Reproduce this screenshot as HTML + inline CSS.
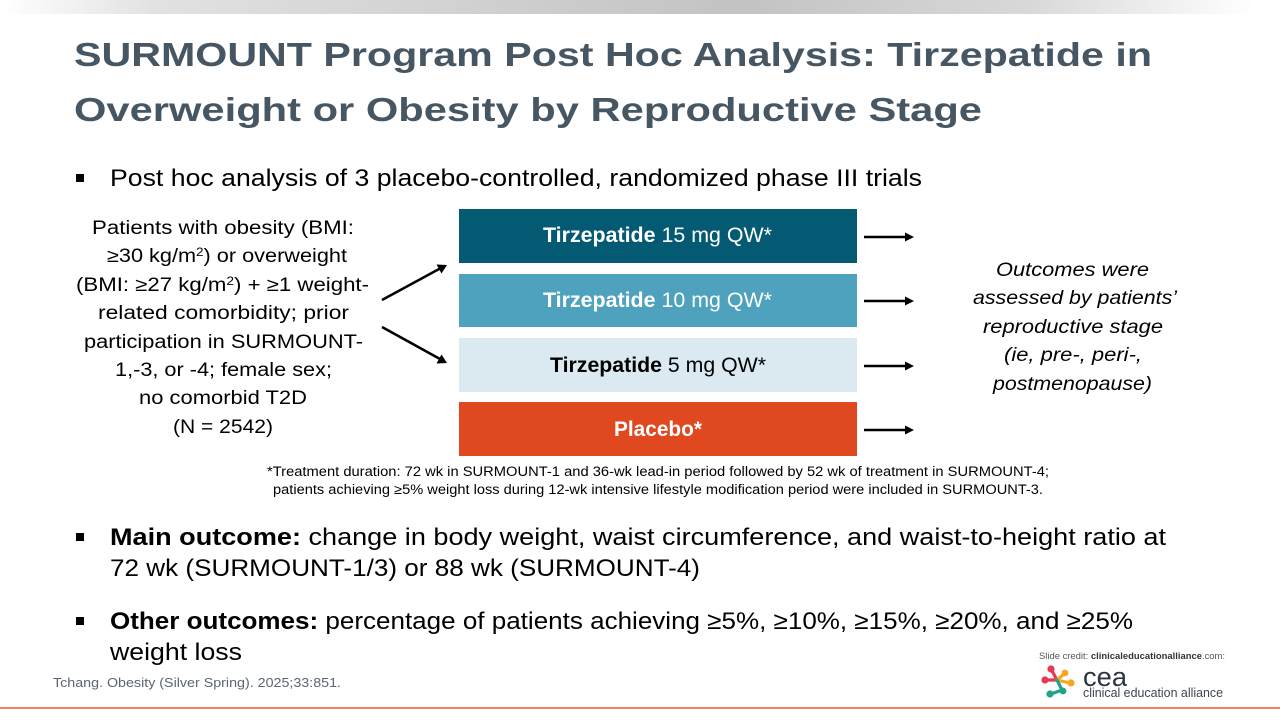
<!DOCTYPE html>
<html>
<head>
<meta charset="utf-8">
<style>
  html, body { margin:0; padding:0; }
  body { width:1280px; height:720px; position:relative; overflow:hidden; background:#fff;
         font-family:"Liberation Sans", "DejaVu Sans", sans-serif; color:#000; }
  .t { position:absolute; white-space:nowrap; transform-origin:0 50%; }
  .topbar { position:absolute; left:0; top:0; width:1280px; height:14px;
            background:linear-gradient(to right, #ffffff 0%, #e2e2e2 12%, #cbcbcb 45%, #c3c3c3 58%, #d8d8d8 80%, #ffffff 98%); }
  .title { font-weight:bold; font-size:33.5px; line-height:33.5px; color:#465662; }
  .b24 { font-size:24.5px; line-height:24.5px; color:#000; }
  .sq { position:absolute; width:8px; height:8px; background:#000; }
  .lb { font-size:19px; line-height:19px; color:#000; }
  .lb sup, .sp { font-size:0.62em; position:relative; top:-0.5em; vertical-align:baseline; line-height:0; }
  .box { position:absolute; left:459px; width:398px; }
  .bx { font-size:21px; line-height:21px; }
  .it { font-size:19px; line-height:19px; font-style:italic; color:#000; }
  .fn { font-size:13.5px; line-height:13.5px; color:#000; }
  .cit { font-size:12.5px; line-height:12.5px; color:#5b6670; }
  .cred { font-size:9.5px; line-height:9.5px; color:#555; }
  .orange { position:absolute; left:0; top:707px; width:1280px; height:2px; background:#f0805e; }
</style>
</head>
<body>
<div class="topbar"></div>

<!-- Title -->
<div class="t title" style="left:74px; top:38.6px; --w:1078;">SURMOUNT Program Post Hoc Analysis: Tirzepatide in</div>
<div class="t title" style="left:74px; top:93.6px; --w:908;">Overweight or Obesity by Reproductive Stage</div>

<!-- Bullet 1 -->
<div class="sq" style="left:76px; top:174px;"></div>
<div class="t b24" style="left:110px; top:167px; --w:812;">Post hoc analysis of 3 placebo-controlled, randomized phase III trials</div>

<!-- Left block -->
<div class="t lb" style="left:92px; top:219px; --w:262;">Patients with obesity (BMI:</div>
<div class="t lb" style="left:107px; top:247px; --w:240;">≥30 kg/m<span class="sp">2</span>) or overweight</div>
<div class="t lb" style="left:76px; top:276px; --w:293;">(BMI: ≥27 kg/m<span class="sp">2</span>) + ≥1 weight-</div>
<div class="t lb" style="left:98px; top:304px; --w:251;">related comorbidity; prior</div>
<div class="t lb" style="left:84px; top:333px; --w:279;">participation in SURMOUNT-</div>
<div class="t lb" style="left:115px; top:361px; --w:217;">1,-3, or -4; female sex;</div>
<div class="t lb" style="left:139px; top:389px; --w:168;">no comorbid T2D</div>
<div class="t lb" style="left:173px; top:418px; --w:100;">(N = 2542)</div>

<!-- Arrows -->
<svg style="position:absolute; left:0; top:0;" width="1280" height="720">
  <g stroke="#000" stroke-width="2.5" fill="#000">
    <line x1="382" y1="300" x2="440" y2="268.5"/>
    <polygon points="447,265 436.5,264.5 441.5,273.5" stroke="none"/>
    <line x1="382" y1="327" x2="440" y2="359"/>
    <polygon points="447,363 441.5,354.5 436.5,363.5" stroke="none"/>
    <line x1="864" y1="237" x2="906" y2="237"/>
    <polygon points="914,237 905,232.5 905,241.5" stroke="none"/>
    <line x1="864" y1="301" x2="906" y2="301"/>
    <polygon points="914,301 905,296.5 905,305.5" stroke="none"/>
    <line x1="864" y1="366" x2="906" y2="366"/>
    <polygon points="914,366 905,361.5 905,370.5" stroke="none"/>
    <line x1="864" y1="430" x2="906" y2="430"/>
    <polygon points="914,430 905,425.5 905,434.5" stroke="none"/>
  </g>
</svg>

<!-- Boxes -->
<div class="box" style="top:209px; height:54px; background:#045a73;"></div>
<div class="box" style="top:274px; height:53px; background:#4fa2bd;"></div>
<div class="box" style="top:338px; height:54px; background:#daeaf0;"></div>
<div class="box" style="top:402px; height:54px; background:#e0491f;"></div>

<div class="t bx" style="left:543px; top:225px; color:#fff; --w:229;"><b>Tirzepatide</b> 15 mg QW*</div>
<div class="t bx" style="left:543px; top:290px; color:#fff; --w:229;"><b>Tirzepatide</b> 10 mg QW*</div>
<div class="t bx" style="left:550px; top:355px; color:#000; --w:216;"><b>Tirzepatide</b> 5 mg QW*</div>
<div class="t bx" style="left:614px; top:419px; color:#fff; --w:88;"><b>Placebo*</b></div>

<!-- Right italic block -->
<div class="t it" style="left:996px; top:261px; --w:153;">Outcomes were</div>
<div class="t it" style="left:973px; top:289px; --w:204;">assessed by patients’</div>
<div class="t it" style="left:983px; top:318px; --w:180;">reproductive stage</div>
<div class="t it" style="left:1004px; top:346px; --w:138;">(ie, pre-, peri-,</div>
<div class="t it" style="left:993px; top:375px; --w:159;">postmenopause)</div>

<!-- Footnote -->
<div class="t fn" style="left:267px; top:464.5px; --w:782;">*Treatment duration: 72 wk in SURMOUNT-1 and 36-wk lead-in period followed by 52 wk of treatment in SURMOUNT-4;</div>
<div class="t fn" style="left:273px; top:482.5px; --w:770;">patients achieving ≥5% weight loss during 12-wk intensive lifestyle modification period were included in SURMOUNT-3.</div>

<!-- Main outcome -->
<div class="sq" style="left:76px; top:533px;"></div>
<div class="t b24" style="left:110px; top:526px; --w:1056;"><b>Main outcome:</b> change in body weight, waist circumference, and waist-to-height ratio at</div>
<div class="t b24" style="left:110px; top:557px; --w:590;">72 wk (SURMOUNT-1/3) or 88 wk (SURMOUNT-4)</div>

<!-- Other outcomes -->
<div class="sq" style="left:76px; top:617px;"></div>
<div class="t b24" style="left:110px; top:610px; --w:1023;"><b>Other outcomes:</b> percentage of patients achieving ≥5%, ≥10%, ≥15%, ≥20%, and ≥25%</div>
<div class="t b24" style="left:110px; top:641px; --w:132;">weight loss</div>

<!-- Citation -->
<div class="t cit" style="left:53px; top:676.5px; --w:288;">Tchang. Obesity (Silver Spring). 2025;33:851.</div>

<!-- Slide credit + logo -->
<div class="t cred" style="left:1039px; top:652px; --w:186;">Slide credit: <span style="color:#333;font-weight:bold;">clinicaleducationalliance</span>.com:</div>
<svg style="position:absolute; left:1040px; top:663px;" width="40" height="38">
  <g stroke-width="3.2" stroke-linecap="round">
    <line x1="17" y1="17" x2="11" y2="6" stroke="#e8384f"/>
    <line x1="17" y1="17" x2="6" y2="17" stroke="#e8384f"/>
    <line x1="17" y1="17" x2="25" y2="10" stroke="#f5a623"/>
    <line x1="17" y1="17" x2="30" y2="20" stroke="#f5a623"/>
    <line x1="17" y1="17" x2="22" y2="27" stroke="#1fa38a"/>
    <line x1="22" y1="27" x2="11" y2="31" stroke="#1fa38a"/>
  </g>
  <circle cx="11" cy="6" r="3.6" fill="#e8384f"/>
  <circle cx="5" cy="17" r="3.6" fill="#e8384f"/>
  <circle cx="25" cy="10" r="3.4" fill="#f5a623"/>
  <circle cx="31" cy="20" r="3.6" fill="#f5a623"/>
  <circle cx="23" cy="28" r="3.4" fill="#1fa38a"/>
  <circle cx="10" cy="31" r="3.6" fill="#1fa38a"/>
</svg>
<div class="t" style="left:1083px; top:664px; font-size:27px; line-height:27px; color:#2b3443; --w:44;">cea</div>
<div class="t" style="left:1083px; top:686.5px; font-size:12.5px; line-height:12.5px; color:#3c4554; --w:140;">clinical education alliance</div>

<div class="orange"></div>

<script>
  document.querySelectorAll('.t').forEach(function(el){
    var w = parseFloat(getComputedStyle(el).getPropertyValue('--w'));
    if (!w) return;
    var r = el.getBoundingClientRect().width;
    if (r > 0) el.style.transform = 'scaleX(' + (w / r) + ')';
  });
</script>
</body>
</html>
